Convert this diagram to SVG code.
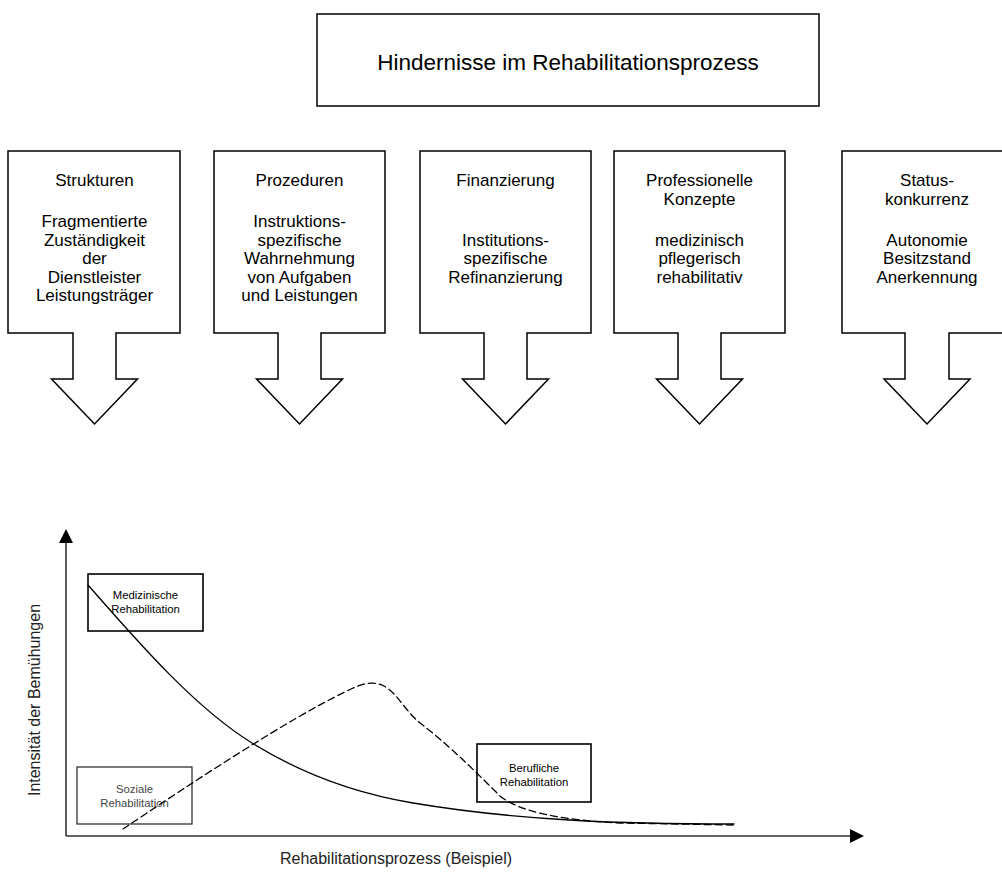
<svg xmlns="http://www.w3.org/2000/svg" width="1002" height="872" viewBox="0 0 1002 872">
  <style>
    .frame{fill:#fff;stroke:#000;stroke-width:1.5;stroke-linejoin:miter}
    .lbl{fill:none;stroke:#000;stroke-width:1.6}
    .lbl-soft{fill:none;stroke:#222;stroke-width:1.2}
    .txt{font-family:"Liberation Sans",Arial,Helvetica,sans-serif;font-size:17px;text-anchor:middle;fill:#000}
    .title{font-family:"Liberation Sans",Arial,Helvetica,sans-serif;font-size:22.5px;text-anchor:middle;fill:#000}
    .small{font-family:"Liberation Sans",Arial,Helvetica,sans-serif;font-size:11.3px;text-anchor:middle;fill:#000}
    .small-soft{font-family:"Liberation Sans",Arial,Helvetica,sans-serif;font-size:11.3px;text-anchor:middle;fill:#444}
    .axis-title{font-family:"Liberation Sans",Arial,Helvetica,sans-serif;font-size:16px;text-anchor:middle;fill:#222}
    .axis{fill:none;stroke:#333;stroke-width:1.6}
    .curve{fill:none;stroke:#000;stroke-width:1.3;stroke-linecap:round;stroke-linejoin:round}
    .dashed{stroke-dasharray:7 4}
  </style>
  <defs>
    <marker id="arrowhead" viewBox="0 0 14 14" refX="1" refY="7" markerWidth="14" markerHeight="14" markerUnits="userSpaceOnUse" orient="auto">
      <path d="M0,0 L14,7 L0,14 Z" fill="#000"/>
    </marker>
  </defs>

  <!-- heading -->
  <g id="title">
    <rect class="frame" x="317" y="14" width="502" height="92"/>
    <text class="title" x="568" y="70">Hindernisse im Rehabilitationsprozess</text>
  </g>

  <!-- five barrier boxes, each ending in a block arrow -->
  <g id="strukturen">
    <path class="frame" d="M8,151 H180 V333 H116 V379 H137.5 L94.5,424 L51.5,379 H73 V333 H8 Z"/>
    <text class="txt" x="94.5" y="186">Strukturen</text>
    <text class="txt" x="94.5" y="227">Fragmentierte</text>
    <text class="txt" x="94.5" y="245.5">Zuständigkeit</text>
    <text class="txt" x="94.5" y="264">der</text>
    <text class="txt" x="94.5" y="282.5">Dienstleister</text>
    <text class="txt" x="94.5" y="301">Leistungsträger</text>
  </g>

  <g id="prozeduren">
    <path class="frame" d="M214,151 H385 V333 H321 V379 H342.5 L299.5,424 L256.5,379 H278 V333 H214 Z"/>
    <text class="txt" x="299.5" y="186">Prozeduren</text>
    <text class="txt" x="299.5" y="227">Instruktions-</text>
    <text class="txt" x="299.5" y="245.5">spezifische</text>
    <text class="txt" x="299.5" y="264">Wahrnehmung</text>
    <text class="txt" x="299.5" y="282.5">von Aufgaben</text>
    <text class="txt" x="299.5" y="301">und Leistungen</text>
  </g>

  <g id="finanzierung">
    <path class="frame" d="M420,151 H591 V333 H527 V379 H548.5 L505.5,424 L462.5,379 H484 V333 H420 Z"/>
    <text class="txt" x="505.5" y="186">Finanzierung</text>
    <text class="txt" x="505.5" y="245.5">Institutions-</text>
    <text class="txt" x="505.5" y="264">spezifische</text>
    <text class="txt" x="505.5" y="282.5">Refinanzierung</text>
  </g>

  <g id="konzepte">
    <path class="frame" d="M614,151 H785 V333 H721 V379 H742.5 L699.5,424 L656.5,379 H678 V333 H614 Z"/>
    <text class="txt" x="699.5" y="186">Professionelle</text>
    <text class="txt" x="699.5" y="204.5">Konzepte</text>
    <text class="txt" x="699.5" y="245.5">medizinisch</text>
    <text class="txt" x="699.5" y="264">pflegerisch</text>
    <text class="txt" x="699.5" y="282.5">rehabilitativ</text>
  </g>

  <g id="statuskonkurrenz">
    <path class="frame" d="M842,151 H1012 V333 H949 V379 H970 L927,424 L884,379 H905 V333 H842 Z"/>
    <text class="txt" x="927" y="186">Status-</text>
    <text class="txt" x="927" y="204.5">konkurrenz</text>
    <text class="txt" x="927" y="245.5">Autonomie</text>
    <text class="txt" x="927" y="264">Besitzstand</text>
    <text class="txt" x="927" y="282.5">Anerkennung</text>
  </g>

  <!-- chart: axes -->
  <g id="connectors">
    <line class="axis" x1="66" y1="836" x2="66" y2="542" marker-end="url(#arrowhead)"/>
    <line class="axis" x1="66" y1="836" x2="851" y2="836" marker-end="url(#arrowhead)"/>
  </g>

  <text class="axis-title" x="396" y="864">Rehabilitationsprozess (Beispiel)</text>
  <text class="axis-title" transform="translate(40,700) rotate(-90)">Intensität der Bemühungen</text>

  <!-- phase labels -->
  <g id="medizinische">
    <rect class="lbl" x="88" y="574" width="115" height="57"/>
    <text class="small" x="145.5" y="599">Medizinische</text>
    <text class="small" x="145.5" y="613">Rehabilitation</text>
  </g>
  <g id="soziale">
    <rect class="lbl-soft" x="77" y="767" width="115" height="57"/>
    <text class="small-soft" x="134.5" y="793">Soziale</text>
    <text class="small-soft" x="134.5" y="807">Rehabilitation</text>
  </g>
  <g id="berufliche">
    <rect class="lbl" x="477" y="744" width="114" height="58"/>
    <text class="small" x="534" y="772">Berufliche</text>
    <text class="small" x="534" y="786">Rehabilitation</text>
  </g>

  <!-- intensity curves -->
  <g id="curves">
    <path class="curve" d="M88,585 C143,648 197,709 252,743 C306,776.5 359,794 413,803 C520,821 627,824 734,824"/>
    <path class="curve dashed" d="M123,829 C190,784 290,718 345,692 C360,684 372,680 384,686 C398,694 406,712 420,723 C445,742 470,766 500,796 C520,812 560,820 620,823 L734,825"/>
  </g>
</svg>
